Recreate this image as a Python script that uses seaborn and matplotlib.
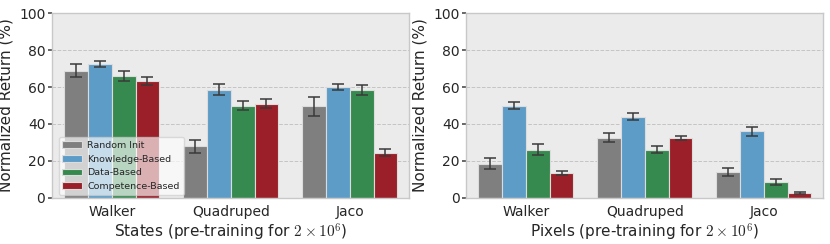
import matplotlib
matplotlib.use("Agg")
import matplotlib.pyplot as plt
import seaborn as sns
import pandas as pd

domains = ["Walker", "Quadruped", "Jaco"]
methods = ["Random Init", "Knowledge-Based", "Data-Based", "Competence-Based"]
colors = ["#7f7f7f", "#5d9cc7", "#378a4f", "#9a1f28"]

states_mean = {
    "Random Init": [69.0, 28.0, 49.5],
    "Knowledge-Based": [72.5, 58.5, 60.0],
    "Data-Based": [66.0, 50.0, 58.5],
    "Competence-Based": [63.5, 51.0, 24.5],
}
states_err = {
    "Random Init": [3.5, 3.5, 5.0],
    "Knowledge-Based": [1.5, 3.0, 1.5],
    "Data-Based": [2.5, 2.5, 2.7],
    "Competence-Based": [2.2, 2.3, 1.8],
}
pixels_mean = {
    "Random Init": [18.5, 32.5, 14.0],
    "Knowledge-Based": [50.0, 44.0, 36.0],
    "Data-Based": [26.0, 26.0, 8.5],
    "Competence-Based": [13.5, 32.5, 2.5],
}
pixels_err = {
    "Random Init": [3.0, 2.5, 2.3],
    "Knowledge-Based": [2.0, 2.0, 2.5],
    "Data-Based": [3.0, 2.0, 1.6],
    "Competence-Based": [1.0, 1.2, 0.3],
}


def to_frame(means, errs):
    rows = []
    for m in methods:
        for d, v, e in zip(domains, means[m], errs[m]):
            rows.append({"Domain": d, "Method": m, "Return": v, "Err": e})
    return pd.DataFrame(rows)


sns.set_theme(style="darkgrid")
plt.rcParams["font.family"] = ["DejaVu Sans"]
plt.rcParams["mathtext.fontset"] = "cm"

fig, axes = plt.subplots(1, 2, figsize=(8.3, 2.44), dpi=100)
panels = [
    (axes[0], to_frame(states_mean, states_err), r"States (pre-training for $2 \times 10^6$)"),
    (axes[1], to_frame(pixels_mean, pixels_err), r"Pixels (pre-training for $2 \times 10^6$)"),
]

for ax, df, xlabel in panels:
    ax.set_facecolor("#ebebeb")
    sns.barplot(data=df, x="Domain", y="Return", hue="Method", hue_order=methods,
                order=domains, palette=colors, errorbar=None, saturation=1,
                edgecolor="#dcdcdc", linewidth=0.8, ax=ax)
    # error bars from the precomputed values, placed on each bar
    for i, m in enumerate(methods):
        cont = ax.containers[i]
        sub = df[df["Method"] == m].set_index("Domain").loc[domains]
        xs = [p.get_x() + p.get_width() / 2 for p in cont.patches]
        ax.errorbar(xs, sub["Return"], yerr=sub["Err"], fmt="none",
                    ecolor="#3a3a3a", elinewidth=1.1, capsize=4, capthick=1.1, zorder=5)
    ax.set_ylim(0, 100)
    ax.set_xlim(-0.5, 2.5)
    ax.set_yticks([0, 20, 40, 60, 80, 100])
    ax.grid(axis="y", color="#c4c4c4", linestyle="--", linewidth=0.7)
    ax.grid(axis="x", visible=False)
    ax.set_axisbelow(True)
    for s in ax.spines.values():
        s.set_visible(True)
        s.set_color("#c8c8c8")
        s.set_linewidth(1.0)
    ax.tick_params(axis="both", labelsize=10, length=3, color="#555555", direction="out",
                   left=True, bottom=False, pad=2)
    ax.set_ylabel("Normalized Return (%)", fontsize=11)
    ax.set_xlabel(xlabel, fontsize=11, labelpad=2)

leg = axes[0].legend(loc="lower left", fontsize=6.8, frameon=True, framealpha=0.65,
                     facecolor="white", edgecolor="#cccccc", borderpad=0.4,
                     borderaxespad=0.3, handlelength=2.1, handleheight=0.7,
                     labelspacing=0.5, handletextpad=0.55, bbox_to_anchor=(0.01, 0.0))
leg.set_zorder(10)
axes[1].get_legend().remove()

fig.subplots_adjust(left=0.063, right=0.992, top=0.945, bottom=0.19, wspace=0.16)
fig.savefig("out.png", dpi=100)
